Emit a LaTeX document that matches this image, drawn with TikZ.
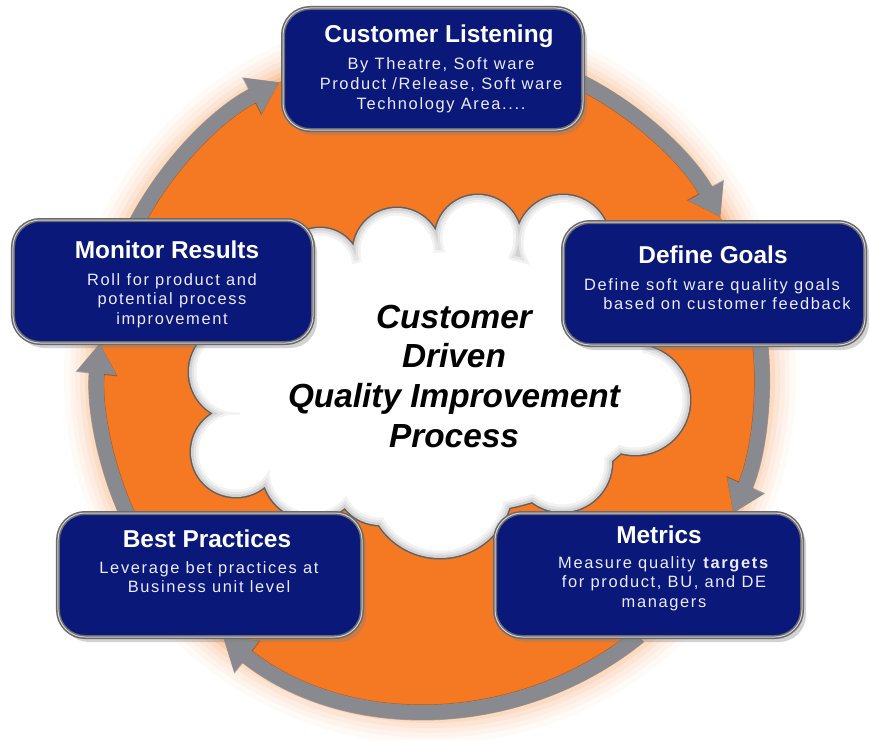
\documentclass[tikz,border=0pt]{standalone}
\usepackage{fontspec}
\setmainfont{Liberation Sans}
\newfontfamily\bodyfont[LetterSpace=10]{Liberation Sans}
\usetikzlibrary{arrows.meta,shadows,calc}
\definecolor{navyC}{RGB}{10,24,122}
\definecolor{orangeC}{RGB}{245,120,34}
\definecolor{ringC}{RGB}{136,138,144}
\definecolor{boxedge}{RGB}{105,105,110}
\definecolor{cloudedge}{RGB}{95,95,100}
\newcommand\lines[1]{\begin{tabular}[t]{@{}c@{}}#1\end{tabular}}
\newcommand\cloudlayer[2]{%
  \fill[#1]
    (320,268) circle[radius={40+#2}]
    (397,252) circle[radius={44+#2}]
    (478,238) circle[radius={43+#2}]
    (563,242) circle[radius={47+#2}]
    (625,300) circle[radius={50+#2}]
    (635,400) circle[radius={55+#2}]
    (562,462) circle[radius={50+#2}]
    (440,485) circle[radius={73+#2}]
    (312,470) circle[radius={50+#2}]
    (236,452) circle[radius={45+#2}]
    (237,372) circle[radius={48+#2}]
    (330,330) circle[radius={60+#2}]
    (350,430) circle[radius={55+#2}]
    (540,420) circle[radius={55+#2}]
    (397,290) circle[radius={45+#2}]
    (478,280) circle[radius={45+#2}]
    (563,285) circle[radius={45+#2}]
    (600,370) circle[radius={50+#2}]
    (300,420) circle[radius={50+#2}]
    (515,440) circle[radius={35+#2}]
    (380,480) circle[radius={45+#2}]
    (270,400) circle[radius={40+#2}]
    (440,380) ellipse[x radius={215+#2}, y radius={135+#2}];}
\begin{document}
\begin{tikzpicture}[x=1bp,y=-1bp,
  boxstyle/.style={rectangle, rounded corners=27bp, fill=navyC, draw=boxedge,
    line width=4bp, inner sep=0pt,
    drop shadow={shadow xshift=4bp, shadow yshift=-5bp, opacity=0.35},
    postaction={draw=gray!35, line width=1bp}},
  titletext/.style={anchor=base, text=white, inner sep=0pt,
    font=\fontsize{24.5}{28}\selectfont\bfseries},
  bodytext/.style={anchor=base, text=white!92!blue, inner sep=0pt,
    font=\bodyfont\fontsize{16.5}{20}\selectfont},
  ring/.style={draw=ringC, line width=15bp, -{Triangle[width=38bp,length=30bp]}},
  ringshadow/.style={draw=black, opacity=0.28, line width=16bp,
    -{Triangle[width=40bp,length=31bp]}, shift={(3,4)}}]
\useasboundingbox (0,0) rectangle (869,740);
\fill[white] (0,0) rectangle (869,740);
\coordinate (c) at (430,378);
% glow around disc
\foreach \r/\p in {366/4,360/8,355/13,350/19,345/27,340/37,336/48}
  \fill[orangeC!\p!white] (c) circle[radius=\r];
% orange disc
\fill[orangeC] (c) circle[radius=332];
% ring arrows
\foreach \a/\b in {208/243, 297/331, 354/384, 51/128.5, 155/186}{
  \draw[ringshadow] ($(c)+(\a:332)$) arc[start angle=\a, end angle=\b, radius=332];
  \draw[ring] ($(c)+(\a:332)$) arc[start angle=\a, end angle=\b, radius=332];
}
% cloud
\cloudlayer{cloudedge}{1.5}
\cloudlayer{gray!36}{0}
\cloudlayer{gray!21}{-2.5}
\cloudlayer{gray!10}{-5}
\cloudlayer{white}{-7.5}
% boxes
\node[boxstyle, minimum width=300bp, minimum height=122bp] (cl) at (433,69) {};
\node[boxstyle, minimum width=302bp, minimum height=123bp] (dg) at (714,283.5) {};
\node[boxstyle, minimum width=307bp, minimum height=124bp] (me) at (648.5,575) {};
\node[boxstyle, minimum width=304bp, minimum height=124bp] (bp) at (210,575) {};
\node[boxstyle, minimum width=300bp, minimum height=123bp] (mr) at (163,281.5) {};
% texts
\node[titletext] (clT) at (439,43) {Customer Listening};
\node[bodytext] (clB) at (441,70) {\lines{By Theatre, Soft ware\\Product /Release, Soft ware\\Technology Area....}};
\node[titletext] (dgT) at (713,263) {Define Goals};
\node[bodytext] (dgB) at (712,290) {\lines{Define soft ware quality goals\\\hspace*{30bp}based on customer feedback}};
\node[titletext] (meT) at (659,543) {Metrics};
\node[bodytext] (meB) at (664,568) {\lines{Measure quality \textbf{targets}\\for product, BU, and DE\\managers}};
\node[titletext] (bpT) at (207,547) {Best Practices};
\node[bodytext] (bpB) at (209,573) {\lines{Leverage bet practices at\\Business unit level}};
\node[titletext] (mrT) at (167,258) {Monitor Results};
\node[bodytext] (mrB) at (172,285) {\lines{Roll for product and\\potential process\\improvement}};
\node[anchor=base, inner sep=0pt, font=\fontsize{33.5}{40}\selectfont\bfseries\itshape] (ctr) at (454,328)
  {\lines{Customer\\Driven\\Quality Improvement\\Process}};
\end{tikzpicture}
\end{document}
